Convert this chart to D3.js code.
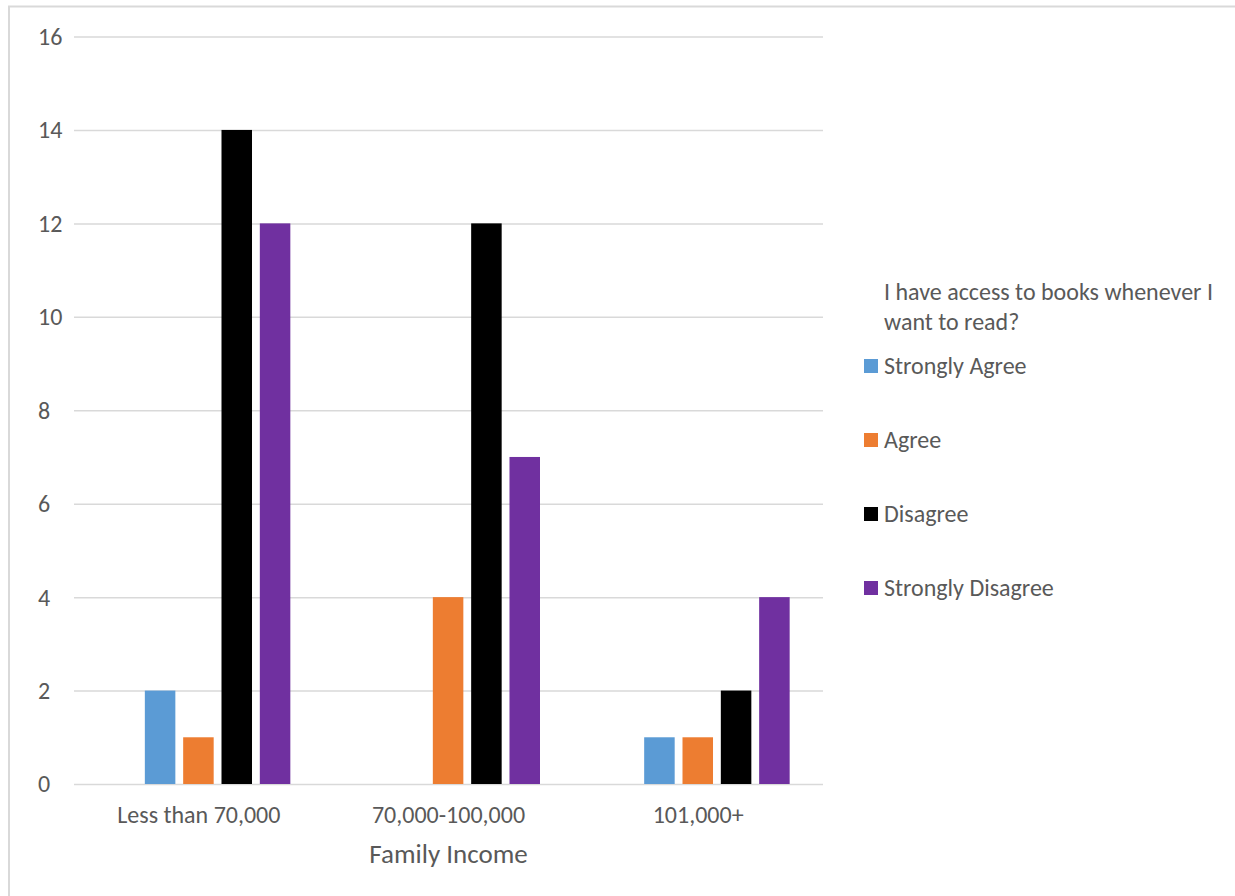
<!DOCTYPE html>
<html>
<head>
<meta charset="utf-8">
<script src="https://cdn.jsdelivr.net/npm/d3@7"></script>
<style>
  html, body { margin: 0; padding: 0; background: #fff; }
  svg { display: block; }
  text { font-family: Carlito, Calibri, Lato, "Open Sans", sans-serif; fill: #595959; }
</style>
</head>
<body>
<svg id="chart" width="1235" height="896"></svg>
<script>
// Survey responses grouped by family income
const categories = ["Less than 70,000", "70,000-100,000", "101,000+"];
const seriesNames = ["Strongly Agree", "Agree", "Disagree", "Strongly Disagree"];
const stronglyAgree = [2, 0, 1];
const agree = [1, 4, 1];
const disagree = [14, 12, 2];
const stronglyDisagree = [12, 7, 4];
const seriesColors = ["#5B9BD5", "#ED7D31", "#000000", "#7030A0"];
const yTicks = [0, 2, 4, 6, 8, 10, 12, 14, 16];
const legendTitle = ["I have access to books whenever I", "want to read?"];
const xAxisTitle = "Family Income";

const seriesValues = [stronglyAgree, agree, disagree, stronglyDisagree];
const rows = categories.map((c, i) => ({
  category: c,
  values: seriesNames.map((s, j) => ({ key: s, value: seriesValues[j][i], color: seriesColors[j] }))
}));

const svg = d3.select("#chart");

// outer frame (left and top edges)
svg.append("path")
  .attr("d", "M9,896V6.5H1235")
  .attr("fill", "none")
  .attr("stroke", "#d9d9d9")
  .attr("stroke-width", 2);

const plot = { left: 74, right: 823, top: 36.5, bottom: 784 };

const y = d3.scaleLinear().domain([0, 16]).range([plot.bottom, plot.top]);
const x0 = d3.scaleBand().domain(categories).range([plot.left, plot.right]).padding(0);
const x1 = d3.scaleBand().domain(seriesNames).range([0, x0.bandwidth()])
  .paddingInner(0.204).paddingOuter(1.359).align(0.68);

// gridlines and value labels
const yAxis = d3.axisLeft(y).tickValues(yTicks).tickSize(-(plot.right - plot.left)).tickPadding(0);
const gy = svg.append("g").attr("transform", `translate(${plot.left},0)`).call(yAxis);
gy.select(".domain").remove();
gy.selectAll(".tick line").attr("stroke", "#d9d9d9").attr("stroke-width", 1.5);
gy.selectAll(".tick text")
  .attr("x", 38 - plot.left)
  .attr("text-anchor", "start")
  .attr("dy", "0.33em")
  .style("font-size", "24px")
  .style("font-family", null);

// bars
const groups = svg.append("g").selectAll("g")
  .data(rows)
  .join("g")
  .attr("transform", d => `translate(${x0(d.category)},0)`);

groups.selectAll("rect")
  .data(d => d.values.filter(v => v.value > 0))
  .join("rect")
  .attr("x", d => x1(d.key))
  .attr("width", x1.bandwidth())
  .attr("y", d => y(d.value))
  .attr("height", d => y(0) - y(d.value))
  .attr("fill", d => d.color);

// category axis labels
const xAxis = d3.axisBottom(x0).tickSize(0).tickPadding(0);
const gx = svg.append("g").attr("transform", `translate(0,${plot.bottom})`).call(xAxis);
gx.select(".domain").remove();
gx.selectAll(".tick text")
  .attr("y", 39)
  .attr("dy", null)
  .style("font-size", "24px")
  .style("font-family", null);

// axis title
svg.append("text")
  .attr("x", (plot.left + plot.right) / 2)
  .attr("y", 863)
  .attr("text-anchor", "middle")
  .style("font-size", "27px")
  .text(xAxisTitle);

// legend
const legend = svg.append("g");
legend.selectAll("text.title")
  .data(legendTitle)
  .join("text")
  .attr("class", "title")
  .attr("x", 884)
  .attr("y", (d, i) => 300 + i * 30)
  .style("font-size", "24px")
  .text(d => d);

const items = legend.selectAll("g.item")
  .data(seriesNames)
  .join("g")
  .attr("class", "item")
  .attr("transform", (d, i) => `translate(0,${366 + i * 74})`);
items.append("rect")
  .attr("x", 864).attr("y", -7).attr("width", 14).attr("height", 14)
  .attr("fill", (d, i) => seriesColors[i]);
items.append("text")
  .attr("x", 884).attr("y", 0).attr("dy", "0.33em")
  .style("font-size", "24px")
  .text(d => d);
</script>
</body>
</html>
